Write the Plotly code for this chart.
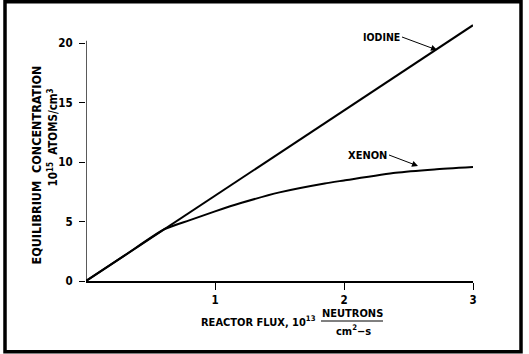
import plotly.graph_objects as go

# ---- data ----
flux_iodine = [0, 1, 2, 3]
iodine = [0, 7.17, 14.33, 21.5]

flux_xenon = [0, 0.3, 0.61, 0.8, 1.0, 1.2, 1.5, 1.85, 2.0, 2.4, 2.7, 3.0]
xenon = [0, 2.15, 4.37, 5.1, 5.85, 6.55, 7.45, 8.2, 8.45, 9.1, 9.38, 9.58]

x_ticks = [1, 2, 3]
y_ticks = [0, 5, 10, 15, 20]

FONT = "'DejaVu Sans Condensed', 'Liberation Sans Narrow', 'Arial Narrow', 'DejaVu Sans', sans-serif"

# layout geometry (pixels)
W, H = 529, 354
L, R, T, B = 86, 56, 24, 73
PW = W - L - R
PH = H - T - B


def px(x):
    return (x - L) / PW


def py(y):
    return (H - B - y) / PH


fig = go.Figure()
fig.add_trace(go.Scatter(x=flux_iodine, y=iodine, mode="lines",
                         line=dict(color="black", width=2), name="Iodine",
                         showlegend=False))
fig.add_trace(go.Scatter(x=flux_xenon, y=xenon, mode="lines",
                         line=dict(color="black", width=2, shape="spline", smoothing=0.6),
                         name="Xenon", showlegend=False))

tickfont = dict(family=FONT, size=11.5, color="black", weight="bold")
fig.update_xaxes(range=[0, 3], tickvals=x_ticks, ticktext=[str(v) for v in x_ticks],
                 showgrid=False, zeroline=False, showline=True, linewidth=2,
                 linecolor="black", ticks="outside", ticklen=7, tickwidth=1,
                 tickcolor="black", tickfont=tickfont)
fig.update_yaxes(range=[0, 21.6], tickvals=y_ticks, ticktext=[str(v) for v in y_ticks],
                 showgrid=False, zeroline=False, showline=False,
                 ticks="outside", ticklen=6, tickwidth=1, tickcolor="black",
                 tickfont=tickfont, ticklabelstandoff=4)

shapes = [
    # y axis line
    dict(type="line", xref="x", yref="y", x0=0, x1=0, y0=0, y1=20.2,
         line=dict(color="black", width=1.3)),
    # frame
    dict(type="rect", xref="paper", yref="paper",
         x0=px(5), x1=px(521), y0=py(1.8), y1=py(351.7),
         line=dict(color="black", width=3.5)),
    # fraction bar
    dict(type="line", xref="paper", yref="paper",
         x0=px(321), x1=px(383), y0=py(321), y1=py(321),
         line=dict(color="black", width=1)),
]

ann = []
af = dict(family=FONT, size=11, color="black", weight="bold")
afy = dict(family=FONT, size=12.5, color="black", weight="bold")
afy2 = dict(family=FONT, size=11.5, color="black", weight="bold")
# Y title (two rotated lines)
ann.append(dict(text="EQUILIBRIUM  CONCENTRATION", xref="paper", yref="paper",
                x=px(35.5), y=py(165), textangle=-90, showarrow=False,
                xanchor="center", yanchor="middle", font=afy))
ann.append(dict(text="10<sup>15</sup>  ATOMS/cm<sup>3</sup>", xref="paper", yref="paper",
                x=px(52.5), y=py(138), textangle=-90, showarrow=False,
                xanchor="center", yanchor="middle", font=afy2))
# X title
ann.append(dict(text="REACTOR FLUX, 10<sup>13</sup>", xref="paper", yref="paper",
                x=px(318), y=py(322), showarrow=False,
                xanchor="right", yanchor="middle", font=af))
ann.append(dict(text="NEUTRONS", xref="paper", yref="paper",
                x=px(352), y=py(313), showarrow=False,
                xanchor="center", yanchor="middle", font=af))
ann.append(dict(text="cm<sup>2</sup>−s", xref="paper", yref="paper",
                x=px(353), y=py(330), showarrow=False,
                xanchor="center", yanchor="middle", font=af))
# curve labels with arrows (text sits at the arrow tail)
ann.append(dict(text="IODINE", xref="paper", yref="paper", x=px(437), y=py(50),
                ax=402 - 437, ay=37 - 50, showarrow=True, arrowhead=2,
                arrowsize=1.2, arrowwidth=1, arrowcolor="black", standoff=0,
                xanchor="right", yanchor="middle",
                font=dict(family=FONT, size=10.5, color="black", weight="bold")))
ann.append(dict(text="XENON", xref="paper", yref="paper", x=px(418), y=py(166),
                ax=389 - 418, ay=155 - 166, showarrow=True, arrowhead=2,
                arrowsize=1.2, arrowwidth=1, arrowcolor="black", standoff=0,
                xanchor="right", yanchor="middle", font=af))

fig.update_layout(width=W, height=H, margin=dict(l=L, r=R, t=T, b=B),
                  paper_bgcolor="white", plot_bgcolor="white",
                  shapes=shapes, annotations=ann, showlegend=False,
                  font=dict(family=FONT, color="black"))

fig.write_html("out.html")
